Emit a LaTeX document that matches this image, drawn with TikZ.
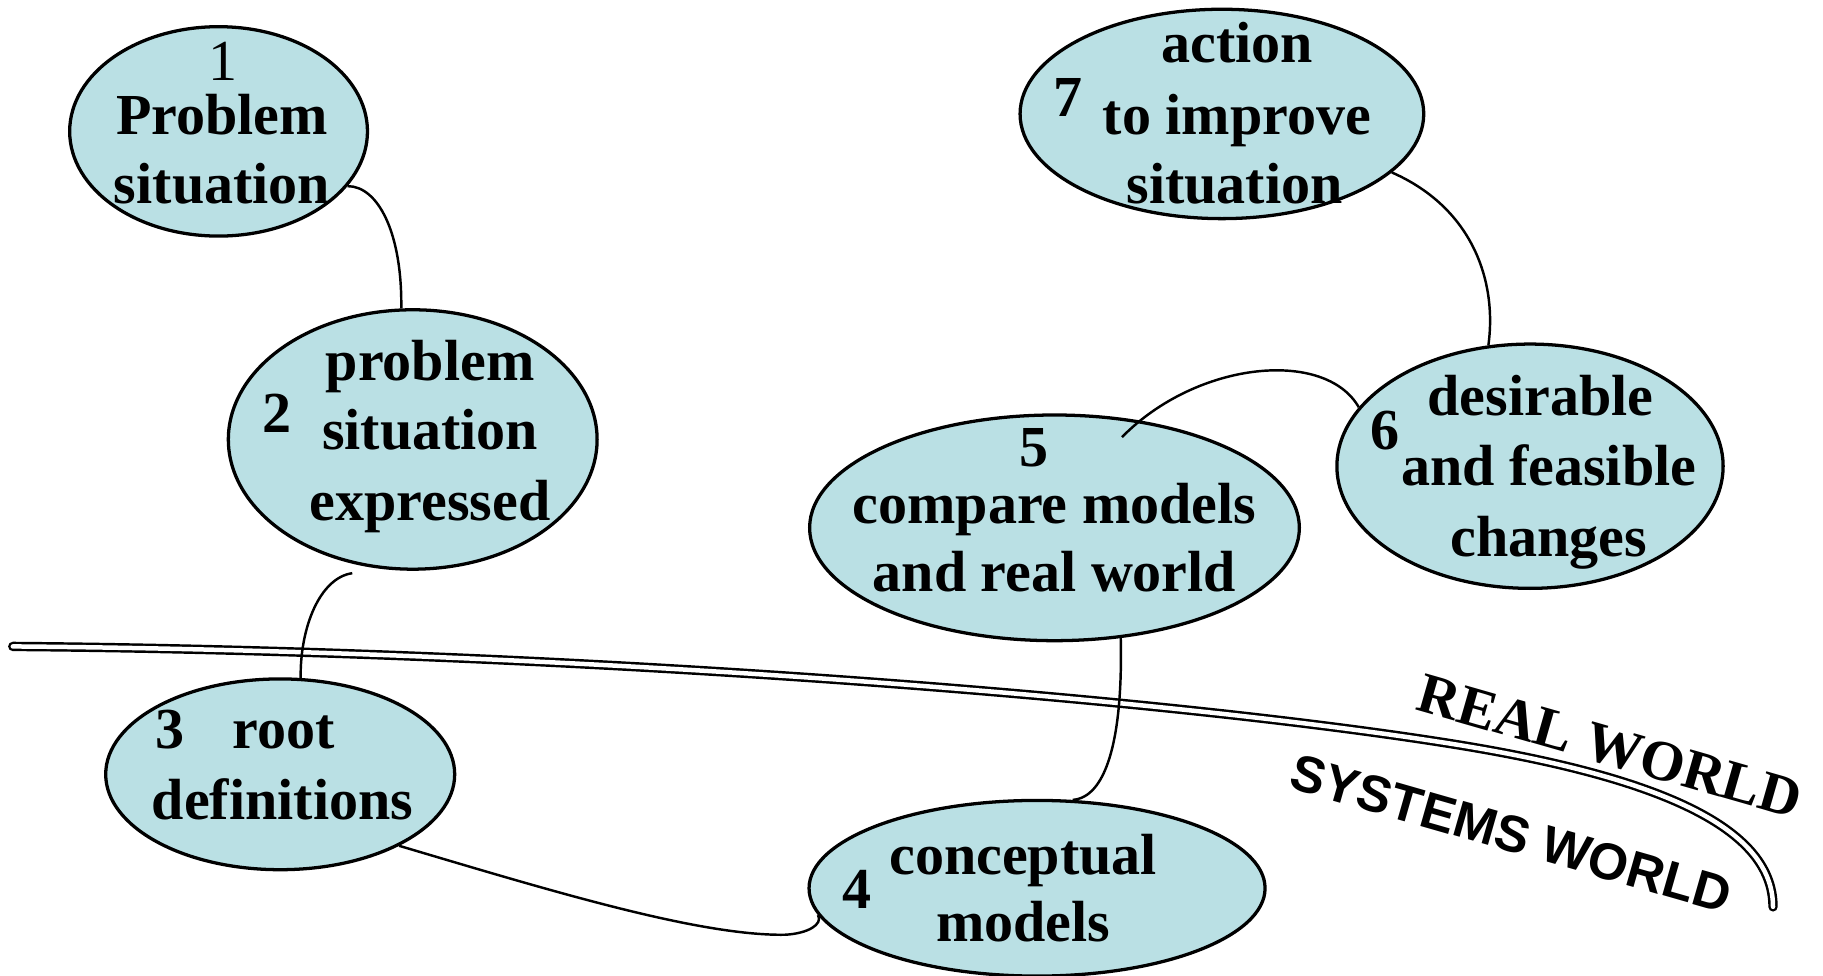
\documentclass[tikz,border=0pt]{standalone}
\usepackage{fontspec}
\setmainfont{Liberation Serif}
\newfontfamily\arialfont{Liberation Sans}
\usetikzlibrary{shapes.geometric}
\definecolor{stagefill}{RGB}{186,224,228}
\begin{document}
\begin{tikzpicture}[x=0.01cm, y=-0.01cm,
  stage/.style={ellipse, draw=black, line width=0.8pt, fill=stagefill, inner sep=0pt},
  lbl/.style={anchor=base, inner sep=0pt, font=\bfseries\fontsize{14.2}{17}\selectfont},
  numreg/.style={anchor=base, inner sep=0pt, font=\fontsize{14.2}{17}\selectfont},
  link/.style={line width=0.6pt, black},
  divider/.style={draw=black, line width=0.6pt, double=white, double distance=1.1pt, line cap=round},
  worldlbl/.style={inner sep=0pt, rotate=-16}]
\useasboundingbox (0,0) rectangle (1568,839);

% boundary between the real world and the systems world
\coordinate (d0) at (11,556);
\coordinate (d1) at (1250,640);
\coordinate (d2) at (1525,780);
\draw[divider] (d0) .. controls (500,560) and (1000,600) .. (d1)
  .. controls (1450,672) and (1525,720) .. (d2);

% the seven stages
\node[stage, minimum width=2.56cm, minimum height=1.80cm] (e1) at (188,113) {};
\node[stage, minimum width=3.17cm, minimum height=2.23cm] (e2) at (355,378) {};
\node[stage, minimum width=3.00cm, minimum height=1.64cm] (e3) at (241,666) {};
\node[stage, minimum width=3.92cm, minimum height=1.51cm] (e4) at (892,764) {};
\node[stage, minimum width=4.21cm, minimum height=1.94cm] (e5) at (907,454) {};
\node[stage, minimum width=3.32cm, minimum height=2.10cm] (e6) at (1316,401) {};
\node[stage, minimum width=3.47cm, minimum height=1.80cm] (e7) at (1051,98) {};

% loose ends of two links
\coordinate (c2) at (303,493);
\coordinate (c5) at (965,376);

% links between stages
\draw[link] (e1.-23) .. controls (325,160) and (346,200) .. (e2.95);
\draw[link] (c2) .. controls (275,497) and (258,540) .. (e3.78);
\draw[link] (e3.-31) .. controls (470,765) and (600,805) .. (675,804)
  .. controls (695,803) and (708,795) .. (e4.187);
\draw[link] (e4.68) .. controls (950,686) and (966,640) .. (e5.-59);
\draw[link] (c5) .. controls (1030,310) and (1140,300) .. (e6.161);
\draw[link] (e6.109) .. controls (1288,240) and (1265,178) .. (e7.-19);

% stage texts
\node[numreg] (n1) at (192,69) {1};
\node[lbl] (t1a) at (191,116) {Problem};
\node[lbl] (t1b) at (191,175) {situation};

\node[lbl] (n2) at (238,372) {2};
\node[lbl] (t2a) at (370,327) {problem};
\node[lbl] (t2b) at (370,387) {situation};
\node[lbl] (t2c) at (370,448) {expressed};

\node[lbl] (n3) at (146,644) {3};
\node[lbl] (t3a) at (244,644) {root};
\node[lbl] (t3b) at (243,705) {definitions};

\node[lbl] (n4) at (737,781) {4};
\node[lbl] (t4a) at (880,752) {conceptual};
\node[lbl] (t4b) at (880,810) {models};

\node[lbl] (n5) at (889,401) {5};
\node[lbl] (t5a) at (907,450) {compare models};
\node[lbl] (t5b) at (907,509) {and real world};

\node[lbl] (n6) at (1191,387) {6};
\node[lbl] (t6a) at (1325,357) {desirable};
\node[lbl] (t6b) at (1332,418) {and feasible};
\node[lbl] (t6c) at (1332,479) {changes};

\node[lbl] (n7) at (919,100) {7};
\node[lbl] (t7a) at (1064,54) {action};
\node[lbl] (t7b) at (1064,116) {to improve};
\node[lbl] (t7c) at (1062,175) {situation};

% world labels
\node[worldlbl, font=\bfseries\fontsize{14}{17}\selectfont] (rw) at (1385,642) {REAL WORLD};
\node[worldlbl, font=\arialfont\bfseries\fontsize{12.6}{15}\selectfont] (sw) at (1300,717) {SYSTEMS WORLD};
\end{tikzpicture}
\end{document}
